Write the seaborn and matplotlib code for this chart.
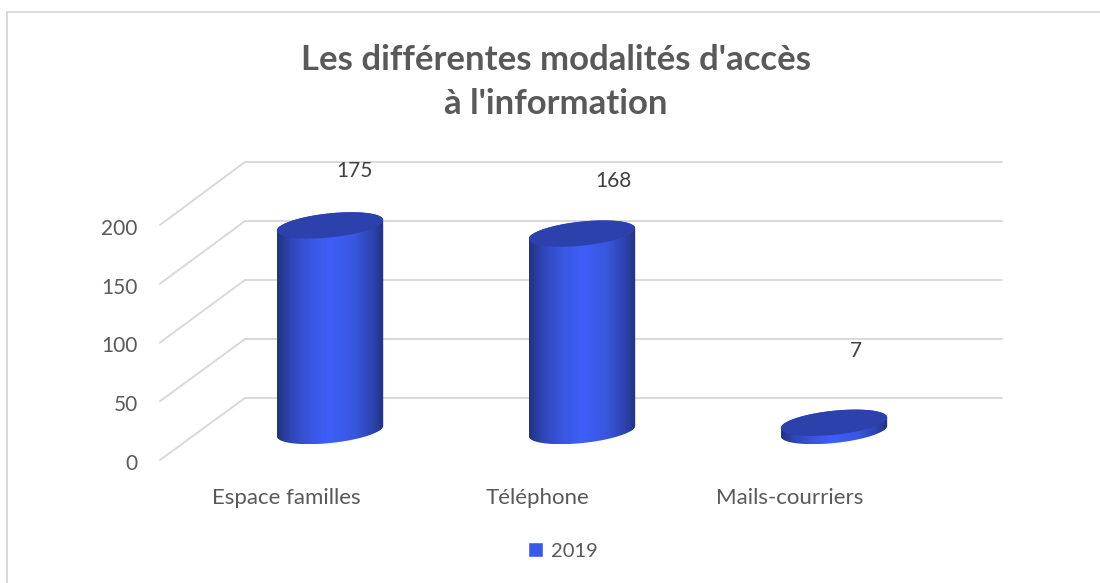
import numpy as np
import pandas as pd
import matplotlib.pyplot as plt
import seaborn as sns
from matplotlib.colors import LinearSegmentedColormap
from matplotlib.lines import Line2D
from matplotlib.patches import ConnectionPatch, Polygon
from matplotlib.transforms import ScaledTranslation

categories = ['Espace familles', 'Téléphone', 'Mails-courriers']
values = [175, 168, 7]
series_name = '2019'
y_ticks = [0, 50, 100, 150, 200]

W, H = 1100, 583
BLUE = '#3B59E8'
TOP_BLUE = '#2C41AC'
TEXT = '#595959'
GRID = '#D9D9D9'

sns.set_theme(style='white')
plt.rcParams['font.family'] = ['Lato', 'DejaVu Sans']

fig = plt.figure(figsize=(W / 100, H / 100), dpi=100)


def plane(left, right, bottom, top):
    # axes from pixel box of the reference, y counted from the top
    ax = fig.add_axes([left / W, 1 - bottom / H, (right - left) / W, (bottom - top) / H])
    ax.patch.set_visible(False)
    sns.despine(ax=ax, left=True, bottom=True)
    ax.set_xlim(-0.5, 2.5)
    ax.set_ylim(0, 200)
    return ax


# the fake 3D: back wall, front plane (labels), middle plane (cylinders)
back = plane(245, 1002, 398, 162)
front = plane(160, 916, 460, 225)
mid = plane(204, 960, 431, 196)

back.set_xticks([])
back.set_yticks(y_ticks)
back.tick_params(labelleft=False, length=0)
back.grid(axis='y', color=GRID, lw=1.4, clip_on=False)
for line in back.get_ygridlines():
    line.set_clip_on(False)

front.set_xticks(range(len(categories)), categories)
front.set_yticks(y_ticks)
front.tick_params(axis='y', length=0, pad=16, labelsize=15, labelcolor=TEXT)
front.tick_params(axis='x', length=0, pad=20, labelsize=16, labelcolor=TEXT)
nudge = ScaledTranslation(0, -2 / 100, fig.dpi_scale_trans)
for tick_label in front.get_yticklabels():
    tick_label.set_transform(tick_label.get_transform() + nudge)

for v in y_ticks:
    fig.add_artist(ConnectionPatch((-0.5, v), (-0.5, v), coordsA=front.transData,
                                   coordsB=back.transData, color=GRID, lw=1.4))

df = pd.DataFrame({'Modalité': categories, 'Nombre': values})
sns.barplot(data=df, x='Modalité', y='Nombre', color=BLUE, width=0.424,
            saturation=1, label=series_name, ax=mid)
handles, labels = mid.get_legend_handles_labels()
if mid.get_legend() is not None:
    mid.get_legend().remove()
mid.set_xlabel('')
mid.set_ylabel('')
mid.set_xticks([])
mid.set_yticks([])

shade = LinearSegmentedColormap.from_list(
    'cyl', [(0, '#22337F'), (0.12, '#2E45B4'), (0.32, '#3A57E4'), (0.5, '#3E5FF8'),
            (0.72, '#3A57E0'), (0.9, '#2D43AE'), (1, '#22337F')])
gradient = np.linspace(0, 1, 200).reshape(1, -1)

px_x = mid.bbox.width / 3
px_y = mid.bbox.height / 200
tilt = np.radians(6)
b = 12.0


def ellipse(cx, cy, a, t):
    # tilted ellipse, a and b in pixels, result in data units
    x = a * np.cos(t) * np.cos(tilt) - b * np.sin(t) * np.sin(tilt)
    y = a * np.cos(t) * np.sin(tilt) + b * np.sin(t) * np.cos(tilt)
    return np.column_stack([cx + x / px_x, cy + y / px_y])


label_shift = [(24, 54), (31, 53), (22, 72)]

for i, bar in enumerate(list(mid.patches)):
    cx = bar.get_x() + bar.get_width() / 2
    val = bar.get_height()
    a = bar.get_width() * px_x / 2
    t0 = np.arctan2(-b * np.sin(tilt), a * np.cos(tilt))
    low = ellipse(cx, 0, a, np.linspace(t0 + np.pi, t0 + 2 * np.pi, 80))
    high = ellipse(cx, val, a, np.linspace(t0, t0 + np.pi, 80))
    body = Polygon(np.vstack([low, high]), closed=True, transform=mid.transData)
    bar.set_clip_path(body)
    bar.set_clip_box(fig.bbox)
    im = mid.imshow(gradient, cmap=shade, aspect='auto', zorder=3, interpolation='bilinear',
                    extent=(cx - bar.get_width() / 2, cx + bar.get_width() / 2, low[:, 1].min(), high[:, 1].max()))
    im.set_clip_path(body)
    im.set_clip_box(fig.bbox)
    lid = ellipse(cx, val, a, np.linspace(0, 2 * np.pi, 160))
    mid.add_patch(Polygon(lid, closed=True, fc=TOP_BLUE, ec='none', zorder=4, clip_on=False))
    mid.annotate(str(values[i]), (cx, val), xytext=label_shift[i], textcoords='offset pixels',
                 ha='center', va='center', fontsize=15, color='#404040', annotation_clip=False)

mid.set_xlim(-0.5, 2.5)
mid.set_ylim(0, 200)

fig.legend(handles, labels, loc='center', bbox_to_anchor=(563 / W, 1 - 551 / H), frameon=False,
           fontsize=14.5, labelcolor=TEXT, handlelength=0.75, handleheight=0.75, handletextpad=0.4)

fig.suptitle("Les différentes modalités d'accès\nà l'information", x=556 / W, y=1 - 82 / H, va='center',
             fontsize=25, fontweight='bold', color=TEXT, linespacing=1.5)

# chart border, only top and left show in the crop
fig.add_artist(Line2D([7 / W, 7 / W, 1], [0, 1 - 12 / H, 1 - 12 / H], color=GRID, lw=1.4))

plt.savefig('out.png', dpi=100)
